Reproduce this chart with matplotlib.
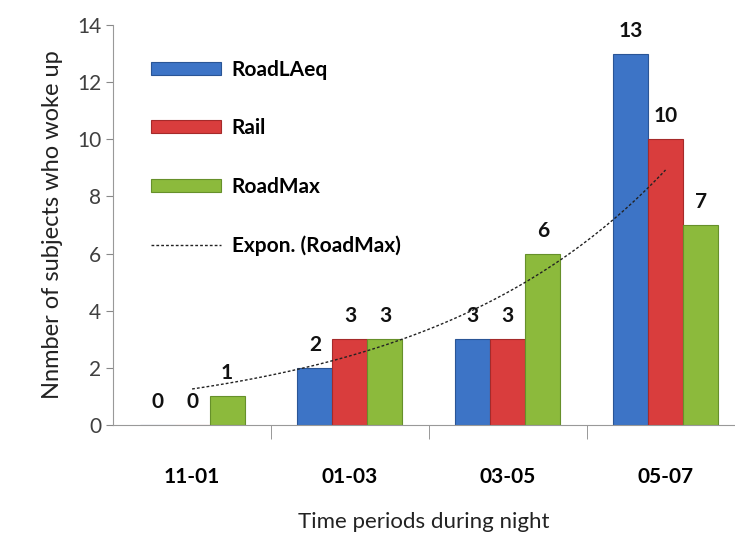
import matplotlib.pyplot as plt
import numpy as np

plt.rcParams['font.family'] = ['Lato', 'DejaVu Sans']

periods = ['11-01', '01-03', '03-05', '05-07']
road_laeq = [0, 2, 3, 13]
rail = [0, 3, 3, 10]
road_max = [1, 3, 6, 7]

series = [('RoadLAeq', road_laeq, '#3d74c6', '#2a5596'),
          ('Rail', rail, '#d93d3d', '#a52a2a'),
          ('RoadMax', road_max, '#8cba3c', '#66902a')]

fig = plt.figure(figsize=(7.35, 5.42), dpi=100)
ax = fig.add_axes([0.154, 0.216, 0.846, 0.738])

x = np.arange(len(periods))
w = 0.222
handles = []
for i, (name, vals, col, edge) in enumerate(series):
    pos = x + (i - 1) * w
    h = ax.bar(pos, vals, w, color=col, edgecolor=edge, linewidth=0.8, label=name)
    handles.append(h)
    for p, v in zip(pos, vals):
        ax.text(p, v + 0.45, str(v), ha='center', va='bottom',
                fontsize=15, fontweight='bold', color='#111111')

# exponential trendline for RoadMax
t = np.arange(1, 5)
b, a = np.polyfit(t, np.log(road_max), 1)
tt = np.linspace(1, 4, 100)
trend, = ax.plot(tt - 1, np.exp(a + b * tt), ls=(0, (2, 1.5)), color='#222222',
                 lw=1.0, label='Expon. (RoadMax)')
handles.append(trend)

ax.set_xlim(-0.5, 3.44)
ax.set_ylim(0, 14)
ax.set_yticks(range(0, 15, 2))
ax.set_xticks(x)
ax.set_xticklabels(periods, fontsize=15, fontweight='bold')
ax.set_xticks(np.arange(0.5, 3.5, 1), minor=True)
ax.tick_params(axis='x', which='major', length=0, pad=30)
ax.tick_params(axis='x', which='minor', length=10, color='#888888')
ax.tick_params(axis='y', length=5, color='#888888', labelsize=15,
               labelcolor='#404040')

for s in ['top', 'right']:
    ax.spines[s].set_visible(False)
for s in ['left', 'bottom']:
    ax.spines[s].set_color('#999999')

ax.set_ylabel('Nnmber of subjects who woke up', fontsize=17, color='#222222',
              labelpad=10)
ax.set_xlabel('Time periods during night', fontsize=16, color='#222222',
              labelpad=18)

ax.legend(handles=handles, loc='upper left', bbox_to_anchor=(0.03, 0.96),
          frameon=False, labelspacing=1.85, handlelength=3.4,
          handleheight=0.6, handletextpad=0.5,
          prop={'size': 15, 'weight': 'bold'})

fig.savefig('out.png', dpi=100)
